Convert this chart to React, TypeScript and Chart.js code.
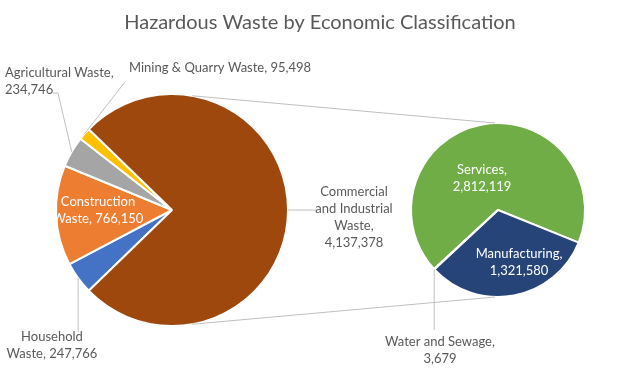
import { useEffect, useRef } from "react";
import { Chart, registerables } from "chart.js";

Chart.register(...registerables);

const TITLE = "Hazardous Waste by Economic Classification";

// Primary pie (Excel order; last one is the split-off "other" slice)
const mainCategories = [
  "Household Waste",
  "Construction Waste",
  "Agricultural Waste",
  "Mining & Quarry Waste",
  "Commercial and Industrial Waste",
];
const mainValues = [247766, 766150, 234746, 95498, 4137378];
const mainColors = ["#4472C4", "#ED7D31", "#A5A5A5", "#FFC000", "#9E480E"];

// Secondary pie (breakdown of Commercial and Industrial Waste)
const subCategories = ["Services", "Manufacturing", "Water and Sewage"];
const subValues = [2812119, 1321580, 3679];
const subColors = ["#70AD47", "#264478", "#5B9BD5"];

const FONT = "Lato, 'Open Sans', sans-serif";
const TEXT_GRAY = "#595959";
const LINE_GRAY = "#BFBFBF";
const LABEL_SIZE = 13;
const LINE_H = 17;

type Pt = [number | null, number];
type LabelLayout = {
  dx: number;
  dy: number;
  align: CanvasTextAlign;
  wrap: number;
  color: string;
  leader?: Pt[];
};

const mainLayout: LabelLayout[] = [
  { dx: -120, dy: 135, align: "center", wrap: 100, color: TEXT_GRAY, leader: [[null, 122]] },
  { dx: -74, dy: -0.5, align: "center", wrap: 100, color: "#FFFFFF" },
  { dx: -167, dy: -129.5, align: "left", wrap: 125, color: TEXT_GRAY, leader: [[-114, -117], [-119, -117]] },
  { dx: -43, dy: -143, align: "left", wrap: 400, color: TEXT_GRAY, leader: [[-47, -128]] },
  { dx: 182, dy: 6.5, align: "center", wrap: 85, color: TEXT_GRAY, leader: [[145, 0]] },
];

const subLayout: LabelLayout[] = [
  { dx: -16, dy: -32.5, align: "center", wrap: 75, color: "#FFFFFF" },
  { dx: 21, dy: 52, align: "center", wrap: 100, color: "#FFFFFF" },
  { dx: -58, dy: 139.5, align: "center", wrap: 125, color: TEXT_GRAY, leader: [[null, 120]] },
];

const fmt = (v: number) => v.toLocaleString("en-US");

function wrapText(ctx: CanvasRenderingContext2D, text: string, maxW: number): string[] {
  const words = text.split(" ");
  const lines: string[] = [];
  let cur = "";
  for (const w of words) {
    const test = cur ? cur + " " + w : w;
    if (cur && ctx.measureText(test).width > maxW) {
      lines.push(cur);
      cur = w;
    } else cur = test;
  }
  if (cur) lines.push(cur);
  return lines;
}

function drawLabels(chart: Chart, names: string[], values: number[], layout: LabelLayout[]) {
  const ctx = chart.ctx;
  const meta = chart.getDatasetMeta(0);
  ctx.save();
  ctx.font = `${LABEL_SIZE}px ${FONT}`;
  meta.data.forEach((el: any, i: number) => {
    const L = layout[i];
    if (!L) return;
    const p = el.getProps(["x", "y", "startAngle", "endAngle", "outerRadius"], true);
    const cx = p.x, cy = p.y;
    const mid = (p.startAngle + p.endAngle) / 2;
    if (L.leader) {
      const sx = cx + p.outerRadius * Math.cos(mid);
      const sy = cy + p.outerRadius * Math.sin(mid);
      ctx.strokeStyle = LINE_GRAY;
      ctx.lineWidth = 1;
      ctx.beginPath();
      ctx.moveTo(sx, sy);
      for (const [lx, ly] of L.leader) {
        ctx.lineTo(lx === null ? sx : cx + lx, cy + ly);
      }
      ctx.stroke();
    }
    const lines = wrapText(ctx, `${names[i]}, ${fmt(values[i])}`, L.wrap);
    ctx.fillStyle = L.color;
    ctx.textAlign = L.align;
    ctx.textBaseline = "alphabetic";
    const x = cx + L.dx;
    const y0 = cy + L.dy - ((lines.length - 1) * LINE_H) / 2;
    lines.forEach((ln, k) => {
      ctx.fillText(ln, x, y0 + k * LINE_H + LABEL_SIZE * 0.36);
    });
  });
  ctx.restore();
}

export default function App() {
  const mainRef = useRef<HTMLCanvasElement>(null);
  const subRef = useRef<HTMLCanvasElement>(null);

  useEffect(() => {
    document.body.style.margin = "0";
    if (!mainRef.current || !subRef.current) return;

    const total = mainValues.reduce((a, b) => a + b, 0);
    const otherSpan = (mainValues[mainValues.length - 1] / total) * 360;
    const mainRotation = 90 + otherSpan / 2;

    const mainChart = new Chart(mainRef.current, {
      type: "pie",
      data: {
        labels: mainCategories,
        datasets: [
          {
            data: mainValues,
            backgroundColor: mainColors,
            borderColor: "#FFFFFF",
            borderWidth: 2,
          },
        ],
      },
      options: {
        animation: false,
        responsive: false,
        maintainAspectRatio: false,
        events: [],
        rotation: mainRotation,
        layout: { padding: { left: 55, right: 351, top: 93, bottom: 57 } },
        plugins: { legend: { display: false }, tooltip: { enabled: false }, title: { display: false } },
      },
      plugins: [
        {
          id: "mainOverlay",
          afterDraw(chart: Chart) {
            const ctx = chart.ctx;
            ctx.save();
            ctx.font = `20px ${FONT}`;
            ctx.fillStyle = TEXT_GRAY;
            ctx.textAlign = "center";
            ctx.textBaseline = "alphabetic";
            ctx.fillText(TITLE, 320, 29);
            ctx.restore();
            drawLabels(chart, mainCategories, mainValues, mainLayout);
          },
        },
      ],
    });

    const subChart = new Chart(subRef.current, {
      type: "pie",
      data: {
        labels: subCategories,
        datasets: [
          {
            data: subValues,
            backgroundColor: subColors,
            borderColor: "#FFFFFF",
            borderWidth: 2,
          },
        ],
      },
      options: {
        animation: false,
        responsive: false,
        maintainAspectRatio: false,
        events: [],
        rotation: -132.7,
        layout: { padding: { left: 410, right: 54, top: 122, bottom: 86 } },
        plugins: { legend: { display: false }, tooltip: { enabled: false }, title: { display: false } },
      },
      plugins: [
        {
          id: "subOverlay",
          afterDraw(chart: Chart) {
            // connector lines between the two pies
            const ctx = chart.ctx;
            const a: any = mainChart.getDatasetMeta(0).data[0];
            const b: any = chart.getDatasetMeta(0).data[0];
            const pa = a.getProps(["x", "y", "outerRadius"], true);
            const pb = b.getProps(["x", "y", "outerRadius"], true);
            const ang = (10 * Math.PI) / 180;
            ctx.save();
            ctx.strokeStyle = LINE_GRAY;
            ctx.lineWidth = 1;
            ctx.beginPath();
            ctx.moveTo(pa.x + pa.outerRadius * Math.sin(ang), pa.y - pa.outerRadius * Math.cos(ang));
            ctx.lineTo(pb.x - 3, pb.y - pb.outerRadius);
            ctx.moveTo(pa.x + pa.outerRadius * Math.sin(ang), pa.y + pa.outerRadius * Math.cos(ang));
            ctx.lineTo(pb.x - 3, pb.y + pb.outerRadius);
            ctx.stroke();
            ctx.restore();
            drawLabels(chart, subCategories, subValues, subLayout);
          },
        },
      ],
    });

    return () => {
      subChart.destroy();
      mainChart.destroy();
    };
  }, []);

  return (
    <div style={{ position: "fixed", left: 0, top: 0, width: 640, height: 384, background: "#FFFFFF" }}>
      <canvas ref={mainRef} width={640} height={384} style={{ position: "absolute", left: 0, top: 0 }} />
      <canvas ref={subRef} width={640} height={384} style={{ position: "absolute", left: 0, top: 0 }} />
    </div>
  );
}
